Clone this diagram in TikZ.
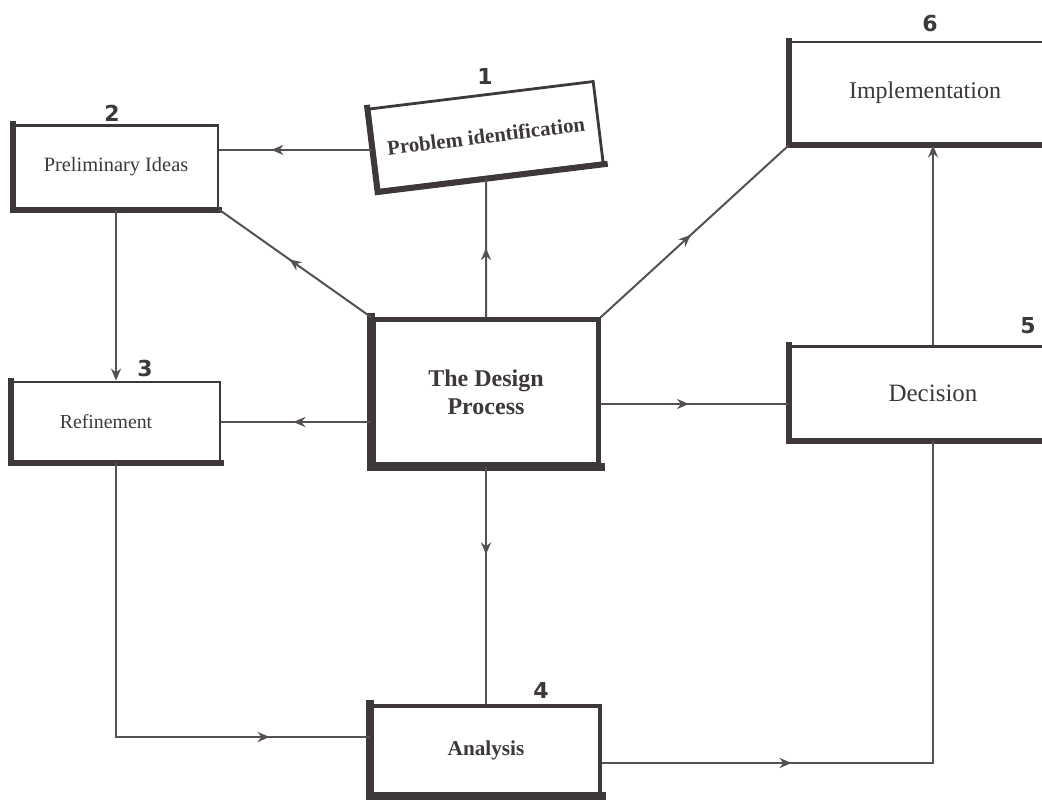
\documentclass[tikz,border=0pt]{standalone}
\usepackage{fontspec}
\setmainfont{Liberation Serif}
\newfontfamily\numfont{DejaVu Sans}
\usetikzlibrary{arrows.meta,decorations.markings,calc}
\definecolor{ink}{HTML}{3E3838}
\definecolor{wire}{HTML}{575050}
\tikzset{
  stage/.style={draw=ink, line width=1.4pt, fill=white, inner sep=0pt,
    text=ink, align=center},
  keystage/.style={stage, line width=2.2pt},
  wire/.style={draw=wire, line width=1pt},
  tip/.tip={Stealth[length=6pt,width=5pt]},
  midarrow/.style={postaction={decorate}, decoration={markings,
    mark=at position #1 with {\arrow{tip}}}},
  endarrow/.style={-tip},
  stepno/.style={font=\numfont\bfseries\fontsize{11}{11}\selectfont, text=ink},
  shadowedge/.style={draw=ink, line width=#1, line cap=rect, line join=miter},
}
\begin{document}
\begin{tikzpicture}[x=0.5pt, y=-0.5pt]
  \useasboundingbox (0,0) rectangle (1042,806);

  % stages of the design process
  \node[stage, minimum width=102pt, minimum height=41.5pt,
        font=\fontsize{10.2}{12}\selectfont] (prelim) at (116,167) {Preliminary Ideas};
  \node[stage, minimum width=113pt, minimum height=41pt, rotate=7,
        font=\bfseries\fontsize{10.4}{12}\selectfont] (prob) at (486,136) {Problem identification};
  \node[stage, minimum width=135pt, minimum height=51pt,
        font=\fontsize{12}{14}\selectfont] (impl) at (925,93) {Implementation};
  \node[keystage, minimum width=112.5pt, minimum height=72.5pt,
        font=\bfseries\fontsize{12}{14}\selectfont] (design) at (486,392) {The Design\\Process};
  \node[stage, minimum width=104pt, minimum height=40pt,
        font=\fontsize{9.9}{11}\selectfont] (refine) at (116,422) {\hspace*{-10pt}Refinement};
  \node[stage, minimum width=143pt, minimum height=46.5pt,
        font=\fontsize{12.5}{14}\selectfont] (decision) at (933,393) {Decision};
  \node[keystage, minimum width=114pt, minimum height=44pt,
        font=\bfseries\fontsize{10.6}{12}\selectfont] (analysis) at (486,750) {Analysis};

  % heavier left and bottom edges
  \foreach \n/\w in {prelim/3pt, prob/3pt, impl/3pt, refine/3pt, decision/3pt,
                     design/4pt, analysis/4pt}
    \draw[shadowedge=\w] (\n.north west) -- (\n.south west) -- (\n.south east);

  % step numbers
  \node[stepno] (n1) at (485,76) {1};
  \node[stepno] (n2) at (112,113) {2};
  \node[stepno] (n3) at (145,368) {3};
  \node[stepno] (n4) at (541,690) {4};
  \node[stepno] (n5) at (1028,326) {5};
  \node[stepno] (n6) at (930,24) {6};

  % connectors
  \draw[wire, midarrow=0.66] (prob.west) -- (prob.west -| prelim.east);
  \draw[wire, midarrow=0.5] (design.north) -- (prob);
  \draw[wire, midarrow=0.54] (design.north west) -- (prelim.south east);
  \draw[wire, midarrow=0.48] (design.north east) -- (impl.south west);
  \draw[wire, endarrow] (decision.north) -- (decision.north |- impl.south);
  \draw[wire, endarrow] (prelim.south) -- (refine.north);
  \draw[wire, midarrow=0.52] (refine.east -| design.west) -- (refine.east);
  \coordinate (dr) at ($(design.east)+(0,12)$);
  \draw[wire, midarrow=0.47] (dr) -- (dr -| decision.west);
  \draw[wire, midarrow=0.37] (design.south) -- (analysis.north);
  \coordinate (ain) at ($(analysis.west)+(0,-13)$);
  \draw[wire, line width=1.3pt, midarrow=0.81] (refine.south) |- (ain);
  \coordinate (aout) at ($(analysis.east)+(0,13)$);
  \draw[wire, line width=1.3pt, midarrow=0.29] (aout) -| (decision.south);
\end{tikzpicture}
\end{document}
